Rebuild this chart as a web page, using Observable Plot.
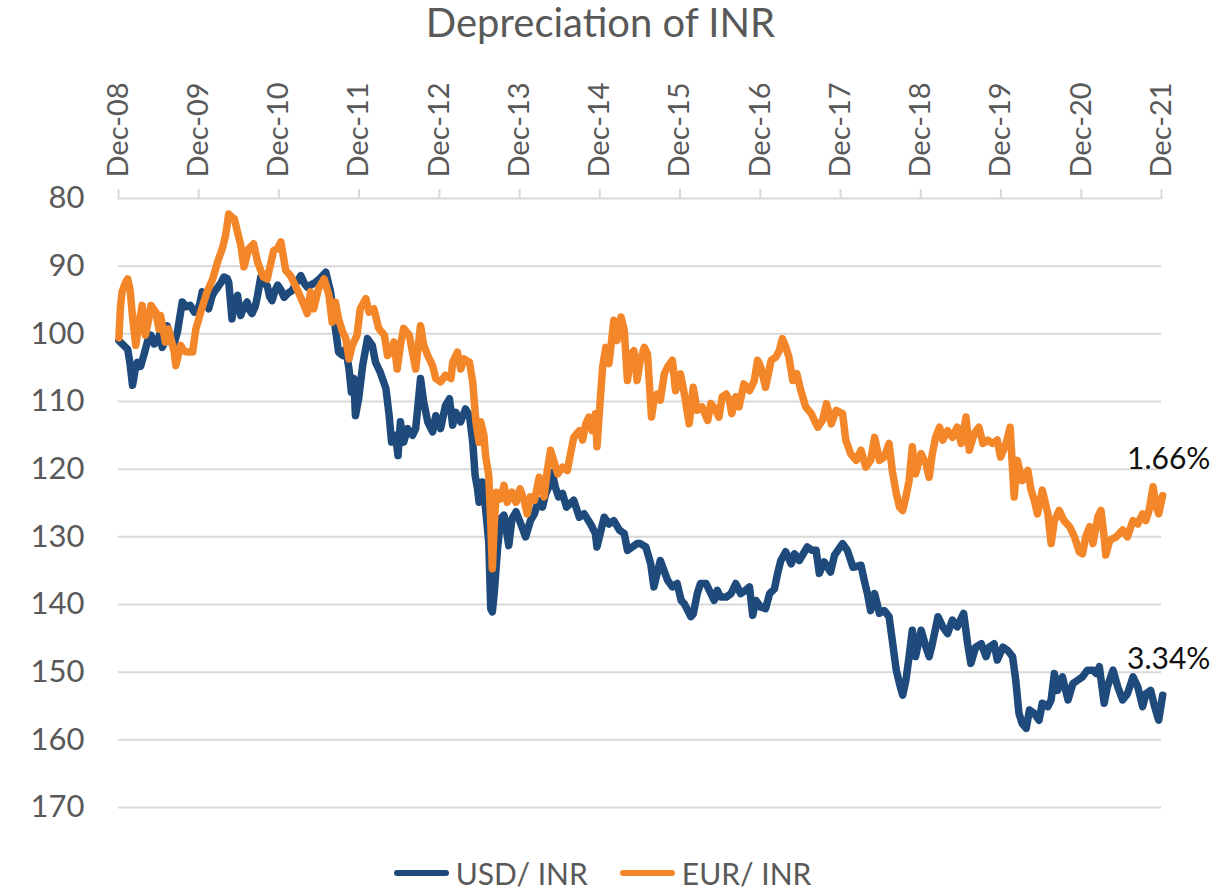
<!DOCTYPE html>
<html>
<head>
<meta charset="utf-8">
<script src="https://cdn.jsdelivr.net/npm/d3@7"></script>
<script src="https://cdn.jsdelivr.net/npm/@observablehq/plot@0.6"></script>
<style>
  body { margin: 0; background: #fff; font-family: Lato, "Open Sans", sans-serif; }
  #title { height: 48px; line-height: 44px; text-align: center; font-size: 40px; color: #595959; padding-right: 18px; }
  #chart { height: 800px; }
  #legend { height: 37px; padding-top: 6px; display: flex; justify-content: center; align-items: center; padding-right: 14px; }
  .item { display: flex; align-items: center; margin: 0 16px; font-size: 30px; color: #595959; }
  .sw { width: 55px; height: 6px; border-radius: 3px; margin-right: 7px; }
</style>
</head>
<body>
<div id="title">Depreciation of INR</div>
<div id="chart"></div>
<div id="legend"></div>
<script>
const seriesNames = ["USD/ INR", "EUR/ INR"];
const seriesColors = ["#1F4A7C", "#F4862A"];
const endLabels = ["3.34%", "1.66%"];
const xTickLabels = ["Dec-08","Dec-09","Dec-10","Dec-11","Dec-12","Dec-13","Dec-14","Dec-15","Dec-16","Dec-17","Dec-18","Dec-19","Dec-20","Dec-21"];
const yTicks = [80, 90, 100, 110, 120, 130, 140, 150, 160, 170];

// USD/INR (decimal year, index value)
const usdYears = [
2008.92,2008.97,2009.03,2009.06,2009.09,2009.12,2009.15,2009.19,2009.23,2009.28,2009.32,2009.36,2009.40,2009.43,2009.46,2009.50,2009.52,2009.56,2009.59,2009.62,2009.65,2009.68,2009.71,2009.76,2009.81,2009.86,2009.90,2009.93,2009.96,2010.00,2010.04,2010.08,2010.11,2010.16,2010.20,2010.23,2010.27,2010.29,2010.31,2010.33,2010.36,2010.40,2010.42,2010.44,2010.48,2010.52,2010.55,2010.58,2010.62,2010.65,2010.69,2010.73,2010.77,2010.80,2010.83,2010.87,2010.90,2010.94,2010.98,2011.03,2011.08,2011.13,2011.19,2011.23,2011.27,2011.31,
2011.37,2011.43,2011.50,2011.56,2011.62,2011.66,2011.71,2011.75,2011.79,2011.82,2011.85,2011.87,2011.91,2011.96,2012.02,2012.08,2012.12,2012.18,2012.25,2012.29,2012.32,2012.37,2012.40,2012.43,2012.47,2012.52,2012.58,2012.62,2012.66,2012.68,2012.72,2012.77,2012.83,2012.87,2012.93,2012.99,2013.04,2013.08,2013.12,2013.18,2013.24,2013.29,2013.33,2013.36,2013.39,2013.41,2013.45,2013.49,2013.53,2013.555,2013.575,2013.60,2013.64,2013.68,2013.72,2013.78,2013.82,2013.87,
2013.93,2013.99,2014.05,2014.10,2014.15,2014.20,2014.24,2014.28,2014.32,2014.36,2014.40,2014.45,2014.50,2014.59,2014.66,2014.72,2014.80,2014.86,2014.88,2014.97,2015.03,2015.09,2015.16,2015.22,2015.26,2015.32,2015.38,2015.42,2015.49,2015.55,2015.59,2015.63,2015.67,2015.76,2015.82,2015.88,2015.93,2015.97,2016.05,2016.08,2016.13,2016.17,2016.24,2016.30,2016.34,2016.38,2016.42,
2016.49,2016.55,2016.61,2016.67,2016.73,2016.78,2016.82,2016.86,2016.92,2016.98,2017.03,2017.09,2017.13,2017.17,2017.23,2017.30,2017.34,2017.40,
2017.45,2017.50,2017.56,2017.61,2017.65,2017.71,2017.79,2017.84,2017.94,2018.00,2018.07,2018.17,2018.21,2018.25,2018.29,2018.34,2018.40,2018.46,2018.52,2018.56,2018.61,2018.65,2018.69,2018.73,2018.77,2018.81,2018.85,2018.92,2018.98,2019.02,2019.06,2019.13,2019.19,2019.25,2019.31,2019.37,2019.45,2019.50,2019.54,2019.60,2019.67,2019.73,2019.77,2019.83,2019.87,2019.94,2020.00,2020.06,2020.10,2020.14,2020.18,2020.23,2020.27,2020.33,2020.39,2020.43,2020.50,2020.54,2020.58,2020.62,2020.68,2020.75,2020.81,2020.87,2020.93,2020.99,2021.06,2021.10,2021.14,2021.20,2021.24,2021.31,2021.37,2021.43,2021.49,2021.56,2021.62,2021.68,2021.72,2021.78,2021.83,2021.88,2021.93
];
const usdValues = [
101.0,101.6,102.3,104.5,107.6,105.5,104.2,104.8,103.2,101.0,100.2,101.5,101.2,100.0,102.0,101.0,98.8,100.5,101.7,101.0,99.7,97.5,95.3,96.0,95.8,96.8,96.5,95.5,93.8,95.0,96.3,94.5,93.8,93.0,92.3,91.6,91.8,92.4,95.0,97.8,95.5,94.3,96.0,97.3,96.0,95.3,96.5,97.0,96.0,94.3,91.6,92.5,92.9,94.5,95.1,93.5,92.8,93.5,94.6,94.0,93.6,92.5,91.4,92.5,93.1,92.8,
92.4,91.8,90.9,93.8,99.2,102.7,103.2,102.2,105.2,108.6,106.6,112.1,109.6,104.7,100.7,101.7,104.2,105.7,108.1,112.1,116.0,115.0,118.0,113.0,116.0,114.0,115.0,114.0,109.1,106.6,110.1,113.0,114.5,112.1,114.0,110.6,109.6,113.5,111.6,113.0,111.1,112.1,116.0,120.9,122.9,124.9,121.9,125.8,130.8,140.6,141.1,138.1,131.7,127.3,126.8,131.3,127.3,126.3,
128.1,130.0,127.6,126.6,124.6,125.6,123.6,122.6,120.5,122.6,124.1,123.6,125.6,124.6,127.1,126.6,128.1,129.5,131.5,127.1,128.1,127.6,129.0,129.5,132.0,131.5,131.0,131.0,131.5,134.0,137.4,135.4,133.5,136.4,137.4,136.9,139.4,139.9,141.8,141.4,138.4,136.9,136.9,138.4,139.4,137.9,138.9,
138.9,138.4,136.9,138.4,137.9,137.4,141.6,139.4,140.4,140.6,138.4,137.7,135.4,133.5,132.2,134.0,132.5,133.5,
132.5,131.5,132.0,132.0,135.4,133.7,135.2,132.7,131.0,132.0,134.5,134.2,136.4,138.4,140.9,138.4,141.3,140.9,141.8,145.3,149.7,151.7,153.4,151.2,147.7,143.8,147.7,143.8,146.3,147.7,145.8,141.8,143.3,144.3,142.3,143.3,141.3,145.8,148.7,146.3,145.8,147.7,146.3,145.8,148.2,146.3,146.8,147.7,151.2,156.1,157.6,158.3,155.6,156.1,157.1,154.6,155.1,154.1,150.2,152.7,150.7,154.1,151.7,151.2,150.7,149.7,149.7,150.2,149.2,154.6,152.2,149.7,152.2,154.1,153.2,150.7,152.2,155.1,153.2,152.7,155.1,157.1,153.4
];

// EUR/INR (decimal year, index value)
const eurYears = [
2008.92,2008.94,2008.96,2009.00,2009.03,2009.06,2009.09,2009.13,2009.17,2009.21,2009.25,2009.29,2009.32,2009.38,2009.42,2009.44,2009.50,2009.54,2009.61,2009.63,2009.69,2009.73,2009.77,2009.84,2009.88,2009.94,2010.02,2010.09,2010.15,2010.21,2010.25,2010.29,2010.33,2010.36,2010.40,2010.44,2010.48,2010.54,2010.60,2010.65,2010.72,2010.77,2010.85,2010.90,2010.94,2011.00,2011.06,2011.15,2011.22,2011.27,2011.31,2011.35,
2011.41,2011.48,2011.54,2011.58,2011.62,2011.66,2011.71,2011.75,2011.79,2011.83,2011.89,2011.93,2012.00,2012.04,2012.10,2012.16,2012.23,2012.27,2012.31,2012.35,2012.39,2012.43,2012.47,2012.54,2012.62,2012.68,2012.72,2012.77,2012.83,2012.87,2012.93,2012.99,2013.06,2013.08,2013.14,2013.18,2013.22,2013.29,2013.33,2013.37,2013.41,2013.43,2013.47,2013.49,2013.53,2013.555,2013.575,2013.60,2013.625,2013.68,2013.72,2013.76,2013.82,2013.87,2013.92,
2013.97,2014.01,2014.05,2014.10,2014.16,2014.22,2014.26,2014.30,2014.34,2014.39,2014.45,2014.51,2014.55,2014.59,2014.66,2014.70,2014.74,2014.78,2014.82,2014.86,2014.88,2014.92,2014.95,2014.99,2015.03,2015.09,2015.13,2015.18,2015.22,2015.26,2015.30,2015.34,2015.38,2015.42,2015.47,2015.51,2015.56,2015.59,2015.63,2015.67,2015.72,2015.76,2015.82,2015.86,2015.92,2015.97,2016.03,2016.08,2016.13,2016.19,2016.26,2016.30,2016.36,2016.40,2016.44,
2016.49,2016.53,2016.56,2016.61,2016.65,2016.71,2016.78,2016.84,2016.88,2016.92,2016.98,2017.05,2017.11,2017.15,2017.19,2017.23,2017.27,2017.32,2017.37,
2017.42,2017.48,2017.55,2017.63,2017.69,2017.74,2017.80,2017.86,2017.94,2017.98,2018.04,2018.11,2018.17,2018.23,2018.29,2018.34,2018.40,2018.46,2018.52,2018.56,2018.61,2018.65,2018.69,2018.73,2018.77,2018.81,2018.85,2018.92,2018.98,2019.02,2019.06,2019.10,2019.15,2019.19,2019.25,2019.31,2019.37,2019.42,2019.48,2019.52,2019.58,2019.64,2019.69,2019.75,2019.81,2019.87,2019.91,2019.98,2020.03,2020.08,2020.12,2020.18,2020.25,2020.29,2020.33,2020.37,2020.43,2020.50,2020.54,2020.58,2020.64,2020.70,2020.77,2020.83,2020.89,2020.93,2020.97,2021.02,2021.06,2021.12,2021.16,2021.20,2021.22,2021.27,2021.35,2021.43,2021.49,2021.56,2021.62,2021.68,2021.72,2021.76,2021.81,2021.85,2021.88,2021.93
];
const eurValues = [
100.6,96.0,93.8,92.5,91.9,93.5,97.5,101.7,98.5,95.8,100.2,98.0,95.8,96.8,99.3,97.3,101.2,99.3,102.7,104.7,101.7,102.5,102.7,102.7,99.3,96.8,93.8,91.9,89.4,87.4,85.5,82.3,82.8,83.0,85.0,86.9,90.1,87.4,86.7,89.4,91.6,91.9,87.7,87.4,86.4,90.6,91.4,93.6,95.5,97.0,93.8,96.3,
93.3,91.9,94.3,98.3,95.3,97.8,99.7,100.7,103.7,101.7,100.2,96.3,94.8,96.8,96.3,99.2,100.2,103.2,102.7,101.2,105.2,101.7,99.2,100.2,105.2,98.8,101.7,103.2,104.7,106.6,107.1,106.1,106.6,104.2,102.7,105.2,103.7,104.2,107.1,113.0,116.0,113.0,115.0,118.0,120.9,127.8,134.7,127.8,123.4,124.4,122.4,124.9,123.4,124.9,122.9,
124.6,126.6,124.1,124.6,121.2,124.1,120.2,117.2,118.7,120.7,119.7,120.2,117.7,115.3,114.3,115.7,113.3,112.3,114.3,111.8,116.7,109.8,104.9,102.0,104.4,98.0,101.0,97.5,99.5,106.9,103.0,102.5,106.9,103.9,102.0,103.0,112.3,109.8,108.9,109.8,105.9,104.9,103.9,108.4,105.9,108.9,113.3,107.9,111.3,110.8,112.8,110.3,111.3,112.3,109.3,
108.9,109.8,111.8,109.3,110.8,107.4,108.4,106.9,103.9,104.9,107.9,103.9,103.4,102.5,100.7,101.9,103.4,106.9,105.9,
108.4,110.8,111.8,113.8,112.8,110.3,113.3,111.3,111.8,115.7,117.7,118.7,117.2,119.7,118.7,115.3,118.7,118.2,116.2,120.2,123.6,125.6,126.1,124.1,121.7,116.7,120.7,117.7,119.2,121.2,117.7,115.3,113.8,115.7,114.3,115.3,113.8,116.2,112.3,117.2,114.8,113.8,116.2,115.7,116.2,115.7,118.2,116.2,113.8,124.1,118.7,121.7,120.2,123.1,124.6,126.6,123.1,126.6,131.0,127.6,126.1,127.6,128.5,130.0,132.2,132.5,130.0,128.5,131.0,127.1,126.1,130.0,132.7,130.5,130.0,129.0,130.0,127.6,128.1,126.6,127.6,126.1,122.6,125.6,126.6,123.9
];

function yearToDate(t) {
  const y = Math.floor(t);
  const a = Date.UTC(y, 0, 1), b = Date.UTC(y + 1, 0, 1);
  return new Date(a + (t - y) * (b - a));
}

const parseTick = d3.utcParse("%b-%y");
const tickDates = xTickLabels.map(parseTick);

const rows = [];
usdYears.forEach((t, i) => rows.push({series: seriesNames[0], date: yearToDate(t), value: usdValues[i]}));
eurYears.forEach((t, i) => rows.push({series: seriesNames[1], date: yearToDate(t), value: eurValues[i]}));

const ends = [
  {series: seriesNames[0], date: yearToDate(usdYears[usdYears.length - 1]), value: usdValues[usdValues.length - 1], label: endLabels[0]},
  {series: seriesNames[1], date: yearToDate(eurYears[eurYears.length - 1]), value: eurValues[eurValues.length - 1], label: endLabels[1]}
];

const chart = Plot.plot({
  width: 1219,
  height: 800,
  marginTop: 150,
  marginLeft: 118,
  marginRight: 58,
  marginBottom: 41,
  style: {fontFamily: "Lato, 'Open Sans', sans-serif", color: "#595959", background: "#fff", overflow: "visible"},
  x: {type: "utc", domain: [tickDates[0], tickDates[tickDates.length - 1]]},
  y: {domain: [80, 170], reverse: true},
  color: {domain: seriesNames, range: seriesColors},
  marks: [
    Plot.gridY(yTicks, {stroke: "#d9d9d9", strokeOpacity: 1, strokeWidth: 2}),
    Plot.axisX(tickDates, {
      anchor: "top",
      tickFormat: d3.utcFormat("%b-%y"),
      tickRotate: -90,
      tickSize: 10,
      tickPadding: 11,
      fontSize: 29,
      stroke: "#d9d9d9",
      strokeWidth: 2,
      fill: "#595959",
      label: null
    }),
    Plot.axisY(yTicks, {anchor: "left", tickSize: 0, tickPadding: 34, fontSize: 31, fill: "#595959", label: null}),
    Plot.line(rows, {x: "date", y: "value", z: "series", stroke: "series", strokeWidth: 7.5, strokeLinejoin: "round", strokeLinecap: "round", curve: "linear"}),
    Plot.text(ends, {x: "date", y: "value", text: "label", dx: 6, dy: -36, fontSize: 30, fill: "#111"})
  ]
});
document.getElementById("chart").appendChild(chart);

const legend = document.getElementById("legend");
seriesNames.forEach((name, i) => {
  const item = document.createElement("div");
  item.className = "item";
  const sw = document.createElement("span");
  sw.className = "sw";
  sw.style.background = seriesColors[i];
  const tx = document.createElement("span");
  tx.textContent = name;
  item.appendChild(sw);
  item.appendChild(tx);
  legend.appendChild(item);
});
</script>
</body>
</html>
